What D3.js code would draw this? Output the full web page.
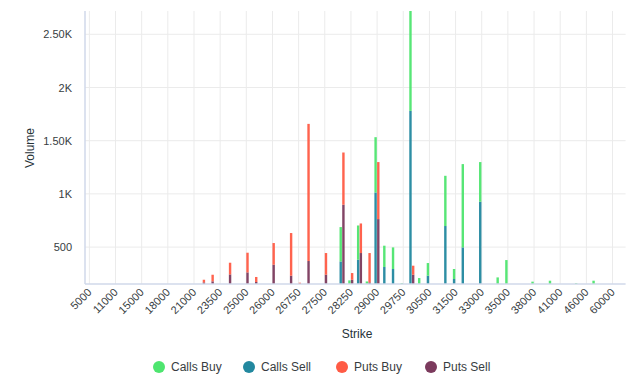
<!DOCTYPE html>
<html>
<head>
<meta charset="utf-8">
<script src="https://cdn.jsdelivr.net/npm/d3@7"></script>
<style>
  body { margin: 0; background: #fff; }
  svg { font-family: "Liberation Sans", Arial, sans-serif; }
</style>
</head>
<body>
<svg id="chart" width="631" height="377"></svg>
<script>
// strike categories (every 3rd one is labelled)
const strikes = [
  5000, 8000, 10000, 11000, 12000, 14000, 15000, 16000, 17000, 18000,
  19000, 20000, 21000, 22000, 23000, 23500, 24000, 24500, 25000, 25500,
  25750, 26000, 26250, 26500, 26750, 27000, 27250, 27500, 27750, 28000,
  28250, 28500, 28750, 29000, 29250, 29500, 29750, 30000, 30250, 30500,
  30750, 31000, 31500, 32000, 32500, 33000, 34000, 34500, 35000, 36000,
  37000, 38000, 39000, 40000, 41000, 42000, 45000, 46000, 50000, 55000,
  60000, 65000
];

// volumes per strike, same order as strikes
const callsSell = [
  0, 0, 0, 0, 0, 0, 0, 0, 0, 0,
  0, 0, 0, 0, 0, 0, 0, 0, 0, 0,
  0, 0, 0, 0, 0, 0, 0, 0, 0, 365,
  0, 381, 0, 1013, 313, 294, 0, 1780, 0, 231,
  0, 698, 200, 497, 0, 926, 0, 0, 0, 0,
  0, 0, 0, 0, 0, 0, 0, 0, 0, 0,
  0, 0
];
const callsBuy = [
  0, 0, 0, 0, 0, 0, 0, 0, 0, 0,
  0, 0, 0, 0, 0, 0, 0, 0, 0, 0,
  0, 0, 0, 0, 0, 0, 0, 0, 0, 323,
  187, 322, 177, 520, 200, 203, 160, 1120, 209, 119,
  0, 472, 94, 783, 0, 373, 0, 215, 378, 0,
  0, 175, 0, 184, 0, 0, 160, 0, 184, 0,
  0, 0
];
const putsSell = [
  0, 0, 0, 0, 0, 0, 0, 0, 0, 0,
  0, 0, 0, 168, 178, 0, 243, 0, 262, 172,
  0, 334, 0, 231, 0, 369, 0, 240, 0, 898,
  193, 444, 168, 763, 0, 0, 0, 240, 0, 0,
  0, 0, 0, 0, 0, 0, 0, 0, 0, 0,
  0, 0, 0, 0, 0, 0, 0, 0, 0, 0,
  0, 0
];
const putsBuy = [
  0, 0, 0, 0, 0, 0, 0, 0, 0, 0,
  0, 0, 0, 25, 62, 0, 110, 0, 185, 47,
  0, 204, 0, 401, 165, 1289, 0, 204, 0, 491,
  63, 278, 276, 536, 0, 0, 0, 85, 0, 0,
  0, 0, 0, 0, 0, 0, 0, 0, 0, 0,
  0, 0, 0, 0, 0, 0, 0, 0, 0, 0,
  0, 0
];

const yTicks = [500, 1000, 1500, 2000, 2500];
const yLabels = ["500", "1K", "1.50K", "2K", "2.50K"];

const seriesNames = ["Calls Buy", "Calls Sell", "Puts Buy", "Puts Sell"];
const colors = ["#4ee56f", "#22889f", "#ff5b45", "#7b3a5d"];

let svg = d3.select("#chart");
const plotLeft = 85, plotRight = 625.6, plotTop = 11, plotBottom = 284;

let x = d3.scaleBand().domain(strikes).range([plotLeft, plotRight]).padding(0);
let bw = x.bandwidth();
let xGroup = d3.scaleBand().domain(["calls", "puts"]).range([bw * 0.19, bw * 0.81]).padding(0);
let y = d3.scaleLinear().domain([153, 2719]).range([plotBottom, plotTop]).clamp(true);

const labelled = strikes.filter((d, i) => i % 3 === 0);

// grid
let grid = svg.append("g");
grid.selectAll(".vgrid")
  .data(labelled)
  .enter()
  .append("line")
  .attr("x1", (d) => x(d) + bw / 2)
  .attr("x2", (d) => x(d) + bw / 2)
  .attr("y1", plotTop)
  .attr("y2", plotBottom)
  .attr("stroke", "#ebebeb")
  .attr("stroke-width", 1);
grid.selectAll(".hgrid")
  .data(yTicks)
  .enter()
  .append("line")
  .attr("x1", plotLeft)
  .attr("x2", plotRight)
  .attr("y1", (d) => y(d))
  .attr("y2", (d) => y(d))
  .attr("stroke", "#ebebeb")
  .attr("stroke-width", 1);

// stacked bars: sell at the bottom, buy on top
const stacks = strikes.map((s, i) => ({
  strike: s,
  bars: [
    { group: "calls", sell: callsSell[i], buy: callsBuy[i], c: [colors[1], colors[0]] },
    { group: "puts", sell: putsSell[i], buy: putsBuy[i], c: [colors[3], colors[2]] },
  ],
}));

let barG = svg.append("g");
stacks.forEach((st) => {
  st.bars.forEach((b) => {
    const bx = x(st.strike) + xGroup(b.group);
    const w = xGroup.bandwidth() - 0.3;
    if (b.sell > 0) {
      barG.append("rect")
        .attr("x", bx)
        .attr("y", y(b.sell))
        .attr("width", w)
        .attr("height", y(0) - y(b.sell))
        .attr("fill", b.c[0])
        .attr("fill-opacity", 0.95);
    }
    if (b.buy > 0) {
      barG.append("rect")
        .attr("x", bx)
        .attr("y", y(b.sell + b.buy))
        .attr("width", w)
        .attr("height", y(b.sell) - y(b.sell + b.buy))
        .attr("fill", b.c[1])
        .attr("fill-opacity", 0.95);
    }
  });
});

// axis lines
svg.append("line")
  .attr("x1", plotLeft).attr("x2", plotLeft)
  .attr("y1", plotTop).attr("y2", plotBottom)
  .attr("stroke", "#d0d8ea").attr("stroke-width", 1.5);
svg.append("line")
  .attr("x1", plotLeft).attr("x2", plotRight)
  .attr("y1", plotBottom).attr("y2", plotBottom)
  .attr("stroke", "#d0d8ea").attr("stroke-width", 1.5);

// y axis labels
let yAxis = svg.append("g")
  .attr("transform", "translate(" + plotLeft + ",0)")
  .call(d3.axisLeft(y).tickValues(yTicks).tickSize(0).tickPadding(13)
    .tickFormat((d, i) => yLabels[i]));
yAxis.select(".domain").remove();
yAxis.selectAll("text")
  .attr("font-size", "11px")
  .attr("fill", "#373d3f")
  .attr("font-family", "Liberation Sans, Arial, sans-serif");

// x labels, rotated
svg.append("g")
  .selectAll("text")
  .data(labelled)
  .enter()
  .append("text")
  .attr("transform", (d) => "translate(" + (x(d) + bw / 2 + 3) + "," + 293 + ") rotate(-45)")
  .attr("text-anchor", "end")
  .attr("font-size", "11px")
  .attr("fill", "#373d3f")
  .text((d) => d);

// axis titles
svg.append("text")
  .attr("x", 357)
  .attr("y", 338)
  .attr("text-anchor", "middle")
  .attr("font-size", "12px")
  .attr("fill", "#263238")
  .text("Strike");

svg.append("text")
  .attr("transform", "translate(34,148) rotate(-90)")
  .attr("text-anchor", "middle")
  .attr("font-size", "12px")
  .attr("fill", "#263238")
  .text("Volume");

// legend
const legendX = [159, 249, 342, 431];
let legend = svg.append("g");
seriesNames.forEach((name, i) => {
  legend.append("circle")
    .attr("cx", legendX[i])
    .attr("cy", 367)
    .attr("r", 6)
    .attr("fill", colors[i]);
  legend.append("text")
    .attr("x", legendX[i] + 12)
    .attr("y", 371)
    .attr("font-size", "12px")
    .attr("fill", "#373d3f")
    .text(name);
});
</script>
</body>
</html>
